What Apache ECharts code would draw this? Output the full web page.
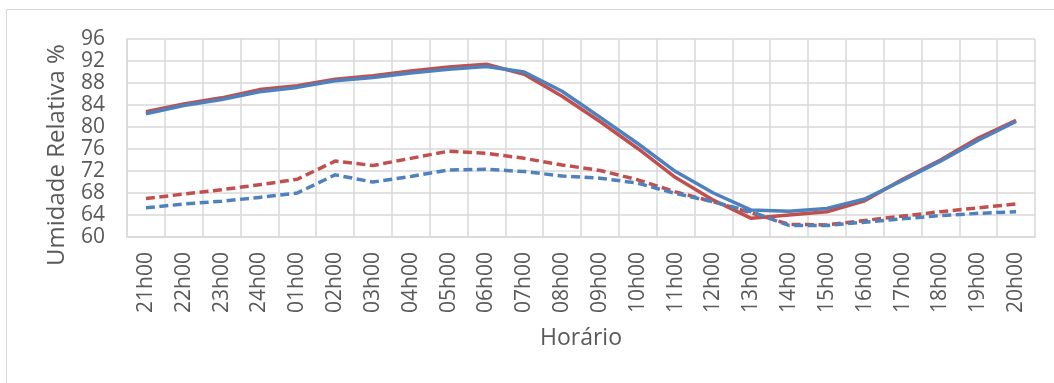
<!DOCTYPE html>
<html>
<head>
<meta charset="utf-8">
<script src="https://cdn.jsdelivr.net/npm/echarts@6/dist/echarts.min.js"></script>
<style>
html,body{margin:0;padding:0;background:#fff;}
#c{width:1054px;height:383px;}
</style>
</head>
<body>
<div id="c"></div>
<script>
const categories = ['21h00','22h00','23h00','24h00','01h00','02h00','03h00','04h00','05h00','06h00','07h00','08h00','09h00','10h00','11h00','12h00','13h00','14h00','15h00','16h00','17h00','18h00','19h00','20h00'];
const redSolid = [82.8, 84.2, 85.3, 86.8, 87.5, 88.7, 89.3, 90.2, 90.9, 91.4, 89.6, 85.6, 81.0, 76.1, 70.8, 66.7, 63.4, 64.0, 64.6, 66.6, 70.5, 74.0, 78.0, 81.2];
const blueSolid = [82.4, 83.9, 85.0, 86.4, 87.2, 88.4, 89.0, 89.8, 90.5, 91.0, 90.0, 86.5, 81.8, 77.0, 71.9, 68.0, 64.9, 64.7, 65.2, 66.9, 70.3, 73.8, 77.6, 81.0];
const redDashed = [67.0, 67.8, 68.6, 69.5, 70.5, 73.8, 73.0, 74.3, 75.6, 75.2, 74.3, 73.1, 72.1, 70.4, 68.2, 66.4, 64.4, 62.3, 62.2, 63.0, 63.8, 64.6, 65.3, 66.0];
const blueDashed = [65.3, 66.0, 66.5, 67.2, 68.0, 71.3, 70.0, 71.0, 72.2, 72.3, 71.9, 71.1, 70.7, 69.8, 67.9, 66.4, 64.6, 62.1, 62.1, 62.7, 63.3, 63.9, 64.3, 64.6];
const yMin = 60, yMax = 96, yStep = 4;
const yTitle = 'Umidade Relativa %';
const xTitle = 'Horário';

const RED = '#C0504D', BLUE = '#4F81BD', TXT = '#595959', GRID = '#D9D9D9';
function line(name, data, color, dashed) {
  return {
    name, type: 'line', data, smooth: false, symbol: 'none',
    lineStyle: { color, width: 3.5, type: dashed ? [9, 4.5] : 'solid', cap: 'butt', join: 'round' },
    itemStyle: { color }
  };
}
const chart = echarts.init(document.getElementById('c'));
chart.setOption({
  animation: false,
  backgroundColor: '#fff',
  graphic: [{
    type: 'rect', shape: { x: 6.5, y: 9.5, width: 1080, height: 420 },
    style: { fill: 'none', stroke: GRID, lineWidth: 1 }, silent: true, z: -10
  }, {
    type: 'text', x: 57, y: 155, rotation: Math.PI / 2,
    style: { text: yTitle, fill: TXT, font: '24px "Open Sans"', align: 'center', verticalAlign: 'middle' },
    silent: true
  }],
  grid: { left: 127, right: 19, top: 39, bottom: 146 },
  xAxis: {
    type: 'category', data: categories, boundaryGap: true,
    name: xTitle, nameLocation: 'middle', nameGap: 90,
    nameTextStyle: { color: TXT, fontSize: 23, fontFamily: 'Open Sans' },
    axisLine: { show: true, lineStyle: { color: GRID, width: 1.5 } },
    axisTick: { show: false },
    splitLine: { show: true, lineStyle: { color: GRID, width: 1.5 } },
    axisLabel: { rotate: 90, interval: 0, margin: 15, color: TXT, fontSize: 21, fontFamily: 'Open Sans' }
  },
  yAxis: {
    type: 'value', min: yMin, max: yMax, interval: yStep,
    axisLine: { show: true, lineStyle: { color: GRID, width: 1.5 } },
    axisTick: { show: false },
    splitLine: { show: true, lineStyle: { color: GRID, width: 1.5 } },
    axisLabel: { margin: 22, color: TXT, fontSize: 21, fontFamily: 'Open Sans' }
  },
  series: [
    line('Vermelho', redSolid, RED, false),
    line('Vermelho tracejado', redDashed, RED, true),
    line('Azul', blueSolid, BLUE, false),
    line('Azul tracejado', blueDashed, BLUE, true)
  ]
});
</script>
</body>
</html>
